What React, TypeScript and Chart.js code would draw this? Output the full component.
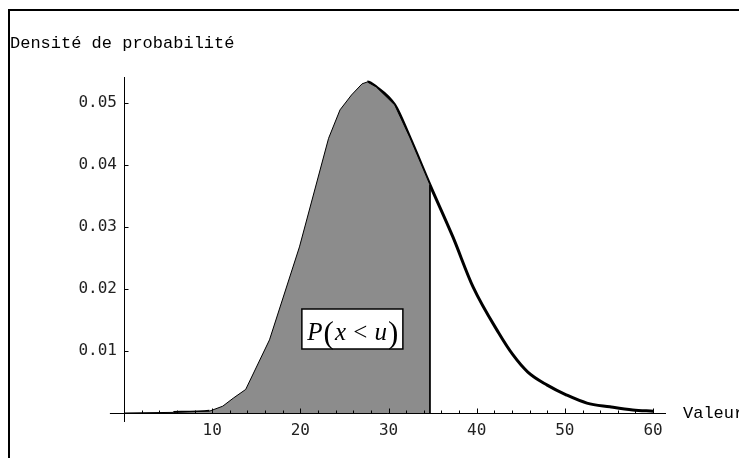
import { useEffect, useRef } from "react";
import { Chart, registerables } from "chart.js";

Chart.register(...registerables);

// ---- data ----
const DENSITY_X = [5.6, 9.7, 11.2, 12.4, 13.8, 16.5, 19.9, 23.2, 24.5, 25.8, 27.0, 27.6, 28.6, 30.7, 32.4, 34.7, 37.3, 39.6, 42.5, 44.1, 45.8, 48.0, 50.2, 52.5, 55.1, 57.7, 60.0];
const DENSITY_Y = [0.0001, 0.0003, 0.0011, 0.0024, 0.0038, 0.0118, 0.0268, 0.0443, 0.0489, 0.0513, 0.0531, 0.0534, 0.0526, 0.0497, 0.0445, 0.0368, 0.0284, 0.0203, 0.0129, 0.0094, 0.0066, 0.0045, 0.0029, 0.0016, 0.001, 0.0005, 0.0003];
const U_VALUE = 34.7;
const PEAK_X = 27.6;
const TAIL_START_X = 9.7;

const X_TICK_VALUES = [10, 20, 30, 40, 50, 60];
const X_MINOR_TICKS = [2, 4, 6, 8, 10, 12, 14, 16, 18, 20, 22, 24, 26, 28, 30, 32, 34, 36, 38, 40, 42, 44, 46, 48, 50, 52, 54, 56, 58, 60];
const Y_TICK_VALUES = [0.01, 0.02, 0.03, 0.04, 0.05];

const X_MIN = 0;
const X_MAX = 61.47;
const Y_MIN = 0;
const Y_MAX = 0.0542;
const X_AXIS_START = -1.6;
const Y_AXIS_END = -0.00145;

const Y_TITLE = "Densité de probabilité";
const X_TITLE = "Valeur";
const AREA_LABEL_PARTS = [
  { t: "P", italic: true, big: false },
  { t: "(", italic: false, big: true },
  { t: "x", italic: true, big: false },
  { t: " < ", italic: false, big: false },
  { t: "u", italic: true, big: false },
  { t: ")", italic: false, big: true },
];
const AREA_LABEL_AT = { x: 25.9, y: 0.01355 };

const curvePoints = DENSITY_X.map((x, i) => ({ x, y: DENSITY_Y[i] }));
const fillPoints = [
  { x: 0, y: 0 },
  ...curvePoints.filter((p) => p.x <= U_VALUE),
  { x: U_VALUE, y: 0 },
];

const decorPlugin = {
  id: "decor",
  afterDatasetsDraw(chart: any) {
    const { ctx, chartArea } = chart;
    const xs = chart.scales.x;
    const ys = chart.scales.y;
    ctx.save();
    const y0 = Math.round(ys.getPixelForValue(0)) + 0.5;
    const x0 = Math.round(xs.getPixelForValue(0)) + 0.5;
    ctx.strokeStyle = "#000";
    ctx.lineWidth = 1;
    ctx.beginPath();
    ctx.moveTo(xs.getPixelForValue(X_AXIS_START), y0);
    ctx.lineTo(chartArea.right, y0);
    ctx.moveTo(x0, chartArea.top);
    ctx.lineTo(x0, ys.getPixelForValue(Y_AXIS_END));
    for (const v of X_MINOR_TICKS) {
      const px = Math.round(xs.getPixelForValue(v)) + 0.5;
      const len = v % 10 === 0 ? 5 : 3;
      ctx.moveTo(px, y0);
      ctx.lineTo(px, y0 - len);
    }
    for (const v of Y_TICK_VALUES) {
      const py = Math.round(ys.getPixelForValue(v)) + 0.5;
      ctx.moveTo(x0, py);
      ctx.lineTo(x0 + 4, py);
    }
    ctx.stroke();

    // axis titles
    ctx.fillStyle = "#000";
    ctx.font = '17px "Liberation Mono"';
    ctx.textAlign = "left";
    ctx.textBaseline = "alphabetic";
    ctx.fillText(Y_TITLE, 10, 48);
    ctx.fillText(X_TITLE, 683, 418);

    // area label box
    const cx = xs.getPixelForValue(AREA_LABEL_AT.x);
    const cy = ys.getPixelForValue(AREA_LABEL_AT.y);
    const bw = 101;
    const bh = 40;
    ctx.fillStyle = "#fff";
    ctx.fillRect(cx - bw / 2, cy - bh / 2, bw, bh);
    ctx.lineWidth = 1.5;
    ctx.strokeRect(cx - bw / 2, cy - bh / 2, bw, bh);
    const fontFor = (p: any) =>
      `${p.italic ? "italic " : ""}${p.big ? 31 : 25}px "Liberation Serif"`;
    let total = 0;
    for (const p of AREA_LABEL_PARTS) {
      ctx.font = fontFor(p);
      total += ctx.measureText(p.t).width + 1;
    }
    let tx = cx - total / 2 + 1;
    ctx.fillStyle = "#000";
    for (const p of AREA_LABEL_PARTS) {
      ctx.font = fontFor(p);
      ctx.fillText(p.t, tx, cy + (p.big ? 14 : 11));
      tx += ctx.measureText(p.t).width + 1;
    }
    ctx.restore();
  },
};

export default function App() {
  const ref = useRef<HTMLCanvasElement | null>(null);
  useEffect(() => {
    if (!ref.current) return;
    const chart = new Chart(ref.current, {
      type: "line",
      data: {
        datasets: [
          {
            label: "P(x<u)",
            data: fillPoints,
            borderColor: "#000",
            borderWidth: 1,
            backgroundColor: "#8c8c8c",
            fill: "origin",
            pointRadius: 0,
            tension: 0,
          },
          {
            label: "densité",
            data: curvePoints,
            borderColor: "#000",
            borderWidth: 3,
            fill: false,
            pointRadius: 0,
            cubicInterpolationMode: "monotone",
            segment: {
              borderColor: (c: any) =>
                c.p0.parsed.x >= TAIL_START_X && c.p1.parsed.x <= PEAK_X ? "rgba(0,0,0,0)" : "#000",
            },
          },
        ],
      },
      options: {
        responsive: false,
        animation: false,
        events: [],
        layout: { padding: { top: 77, right: 73, left: 0, bottom: 0 } },
        plugins: { legend: { display: false }, tooltip: { enabled: false }, title: { display: false } },
        scales: {
          x: {
            type: "linear",
            min: X_MIN,
            max: X_MAX,
            grid: { display: false, drawTicks: false },
            border: { display: false },
            afterFit: (s: any) => {
              s.height = 48;
            },
            afterBuildTicks: (s: any) => {
              s.ticks = X_TICK_VALUES.map((v) => ({ value: v }));
            },
            ticks: {
              padding: 8,
              maxRotation: 0,
              autoSkip: false,
              color: "#222",
              font: { family: '"DejaVu Sans Mono"', size: 16 },
              callback: (v: any) => String(v),
            },
          },
          y: {
            type: "linear",
            min: Y_MIN,
            max: Y_MAX,
            grid: { display: false, drawTicks: false },
            border: { display: false },
            afterFit: (s: any) => {
              s.width = 124;
            },
            afterBuildTicks: (s: any) => {
              s.ticks = Y_TICK_VALUES.map((v) => ({ value: v }));
            },
            ticks: {
              padding: 7,
              autoSkip: false,
              color: "#222",
              font: { family: '"DejaVu Sans Mono"', size: 16 },
              callback: (v: any) => Number(v).toFixed(2),
            },
          },
        },
      },
      plugins: [decorPlugin],
    });
    return () => chart.destroy();
  }, []);

  return (
    <div style={{ position: "absolute", left: 0, top: 0, width: 739, height: 461, background: "#fff", overflow: "hidden" }}>
      <canvas ref={ref} width={739} height={461} style={{ position: "absolute", left: 0, top: 0 }} />
      <div
        style={{
          position: "absolute",
          left: 8,
          top: 9,
          width: 760,
          height: 449,
          borderTop: "2px solid #000",
          borderLeft: "2px solid #000",
          boxSizing: "border-box",
          pointerEvents: "none",
        }}
      />
    </div>
  );
}
